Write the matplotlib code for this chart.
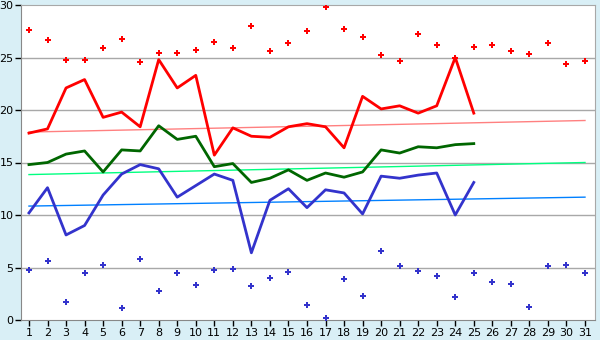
import matplotlib.pyplot as plt
import numpy as np

# Days of the month
days = list(range(1, 32))
obs_days = list(range(1, 26))

# Observed daily max / mean / min (days 1-25)
t_max = [17.8, 18.2, 22.1, 22.9, 19.3, 19.8, 18.4, 24.8, 22.1, 23.3,
         15.7, 18.3, 17.5, 17.4, 18.4, 18.7, 18.4, 16.4, 21.3, 20.1,
         20.4, 19.7, 20.4, 25.0, 19.7]
t_mean = [14.8, 15.0, 15.8, 16.1, 14.1, 16.2, 16.1, 18.5, 17.2, 17.5,
          14.6, 14.9, 13.1, 13.5, 14.3, 13.3, 14.0, 13.6, 14.1, 16.2,
          15.9, 16.5, 16.4, 16.7, 16.8]
t_min = [10.2, 12.6, 8.1, 9.0, 11.9, 13.9, 14.8, 14.4, 11.7, 12.8,
         13.9, 13.3, 6.4, 11.4, 12.5, 10.7, 12.4, 12.1, 10.1, 13.7,
         13.5, 13.8, 14.0, 10.0, 13.1]

# Record highs / lows for each day
rec_max = [27.6, 26.7, 24.8, 24.8, 25.9, 26.8, 24.6, 25.4, 25.4, 25.7,
           26.5, 25.9, 28.0, 25.6, 26.4, 27.5, 29.8, 27.7, 27.0, 25.2,
           24.7, 27.2, 26.2, 25.0, 26.0, 26.2, 25.6, 25.3, 26.4, 24.4, 24.7]
rec_min = [4.8, 5.6, 1.7, 4.5, 5.2, 1.1, 5.8, 2.8, 4.5, 3.3,
           4.8, 4.9, 3.2, 4.0, 4.6, 1.4, 0.2, 3.9, 2.3, 6.6,
           5.1, 4.7, 4.2, 2.2, 4.5, 3.6, 3.4, 1.2, 5.1, 5.2, 4.5]

# Normal values (start and end of month)
norm_days = [1, 31]
norm_max = [17.9, 19.0]
norm_mean = [13.85, 15.0]
norm_min = [10.85, 11.7]

bg = '#d9eff6'
fig = plt.figure(figsize=(6, 3.4), dpi=100, facecolor=bg)
ax = fig.add_axes([21 / 600, 1 - 320 / 340, 574 / 600, 315 / 340])
ax.set_facecolor('white')

for y in range(5, 30, 5):
    ax.axhline(y, color='#a8a8a8', lw=1, zorder=1)

ax.plot(norm_days, norm_max, color='#ff8080', lw=1, zorder=2)
ax.plot(norm_days, norm_mean, color='#00ff80', lw=1, zorder=2)
ax.plot(norm_days, norm_min, color='#0080ff', lw=1, zorder=2)

ax.plot(obs_days, t_max, color='#ff0000', lw=2, zorder=3)
ax.plot(obs_days, t_mean, color='#006600', lw=2, zorder=3)
ax.plot(obs_days, t_min, color='#3333cc', lw=2, zorder=3)

ax.plot(days, rec_max, ls='none', marker='P', ms=5, mew=0,
        color='#ff0000', zorder=4)
ax.plot(days, rec_min, ls='none', marker='P', ms=5, mew=0,
        color='#3333cc', zorder=4)

ax.set_xlim(0.57, 31.54)
ax.set_ylim(0, 30)
ax.set_xticks(days)
ax.set_yticks(range(0, 31, 5))
ax.tick_params(labelsize=8, length=4, width=1, color='black', pad=1.5)
for s in ax.spines.values():
    s.set_color('#a8a8a8')
ax.spines['left'].set_color('#888888')
ax.spines['bottom'].set_color('#888888')

fig.savefig('out.png', dpi=100, facecolor=bg)
